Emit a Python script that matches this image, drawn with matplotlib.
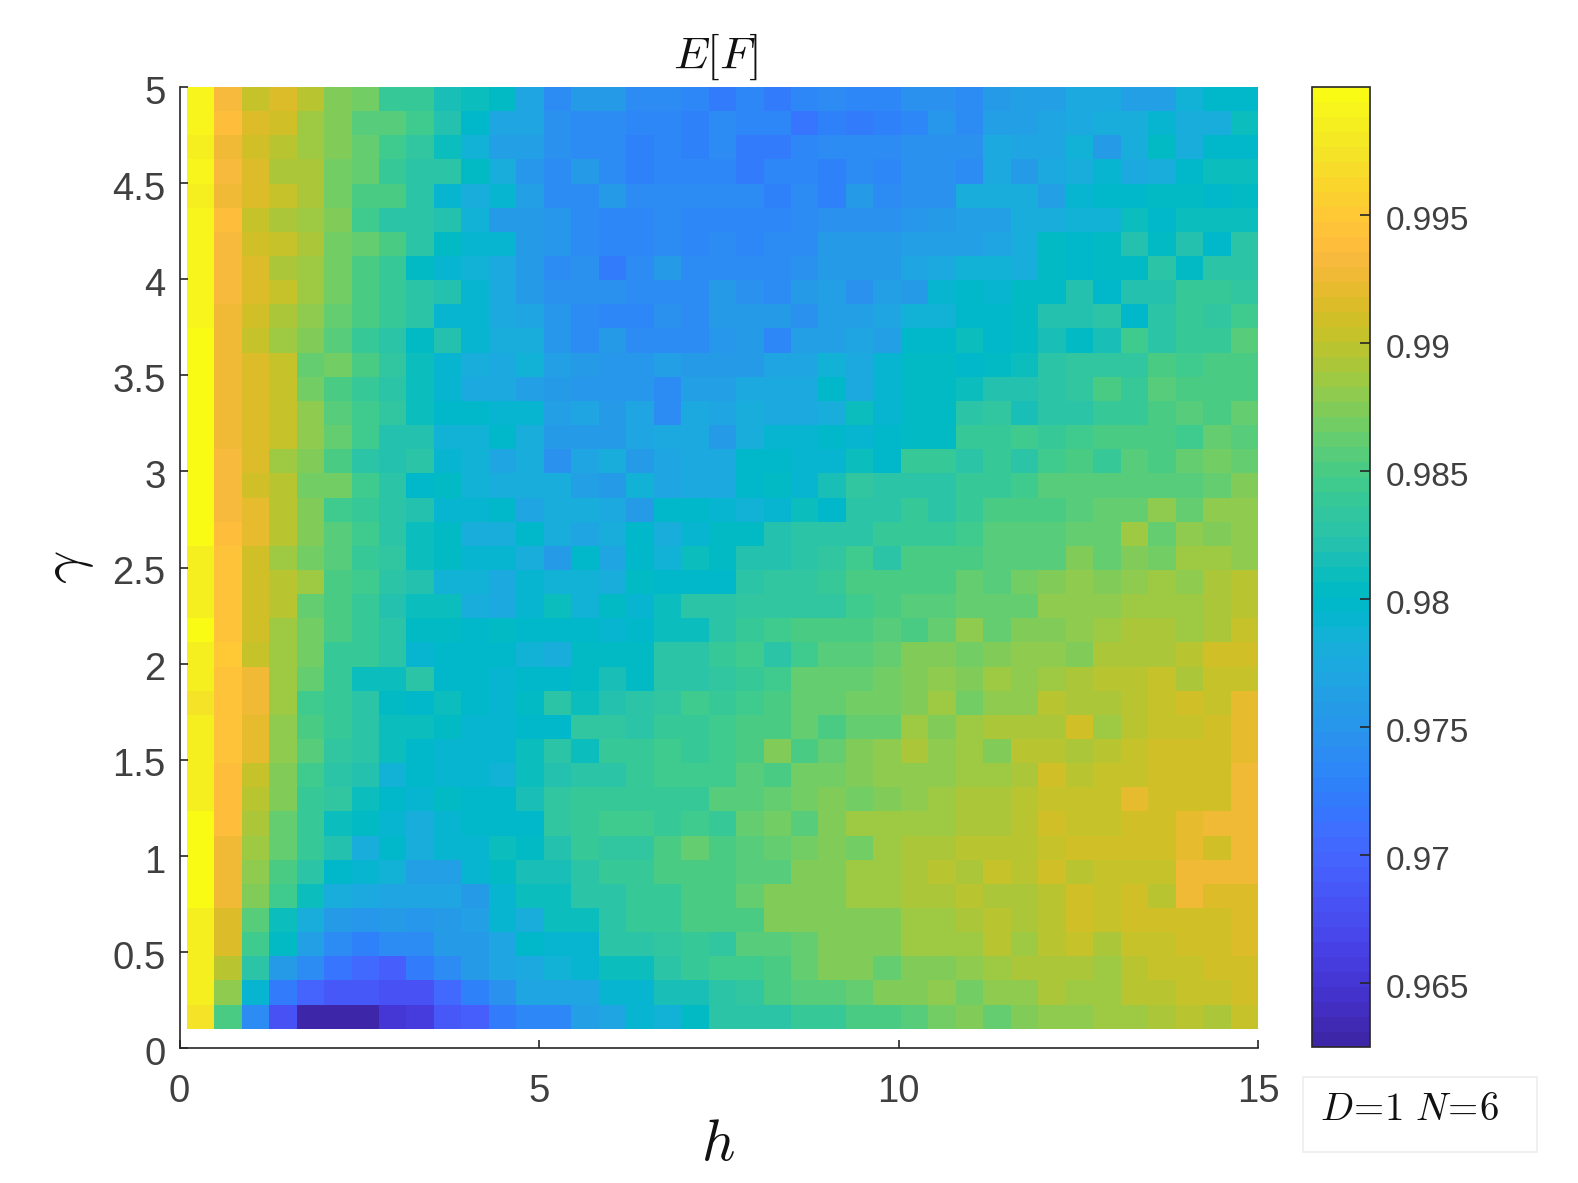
import numpy as np
import matplotlib
matplotlib.use('Agg')
import matplotlib.pyplot as plt
from matplotlib.colors import ListedColormap
from matplotlib.patches import Rectangle
from matplotlib.transforms import ScaledTranslation

plt.rcParams['font.family'] = ['Liberation Sans', 'DejaVu Sans']
plt.rcParams['mathtext.fontset'] = 'cm'

W, H = 1578, 1183

# E[F], in units of 1e-4 above 0.96
# rows go from gamma=5 (top) down to gamma=0.1, columns from h=0.1 to h=15
fid = [
 [391,335,305,315,297,275,270,240,238,213,207,201,170,142,157,157,142,137,132,120,135,122,132,142,132,132,145,145,137,154,162,162,174,174,162,165,187,199,199],
 [391,340,315,309,283,275,258,258,243,222,200,170,168,148,137,142,135,135,125,137,132,132,118,130,120,130,133,150,140,162,162,167,173,181,181,193,181,181,207],
 [385,324,309,297,283,275,263,247,235,208,187,165,161,148,137,142,125,135,125,137,122,122,135,140,137,137,145,145,145,173,167,167,184,158,178,203,178,199,199],
 [391,335,315,292,291,266,265,240,228,225,203,179,150,137,157,142,125,135,135,135,122,135,135,125,137,135,145,145,140,176,156,173,181,190,176,178,197,211,211],
 [385,324,315,303,292,266,250,248,228,193,179,193,161,142,142,157,142,137,137,137,137,125,139,125,154,142,147,147,178,181,181,165,190,197,197,203,201,199,202],
 [391,340,303,292,285,275,245,228,228,222,187,154,157,150,137,135,135,137,133,133,133,133,142,145,145,145,150,158,162,162,181,181,187,185,207,199,210,210,210],
 [391,335,312,303,292,266,260,248,228,201,193,193,154,150,137,135,135,137,133,137,133,137,142,154,154,154,165,165,162,169,178,202,199,201,223,201,222,199,228],
 [391,335,315,292,285,268,252,238,201,193,187,173,154,137,148,122,139,154,139,139,142,139,148,154,154,159,169,176,187,187,178,205,200,203,203,228,205,226,226],
 [391,335,315,303,285,268,252,238,228,222,191,173,159,148,148,145,139,139,139,154,145,142,154,161,148,165,154,190,199,190,203,203,222,200,220,220,236,236,234],
 [391,329,312,292,280,262,250,238,228,193,191,173,168,150,139,135,135,145,137,154,159,159,148,165,165,168,187,187,199,200,201,220,220,228,200,226,238,232,246],
 [397,329,304,287,272,256,236,230,201,222,193,179,179,150,139,159,137,142,142,151,154,135,161,161,168,161,200,200,207,197,201,213,205,213,245,228,240,240,256],
 [397,327,315,302,264,268,252,234,208,193,182,173,187,161,154,151,151,161,154,156,156,170,170,184,176,193,201,201,199,201,207,226,232,232,232,252,243,250,250],
 [397,324,315,303,266,252,236,226,211,193,173,173,165,154,151,151,150,142,161,161,173,173,173,198,173,191,205,205,210,224,222,228,232,252,236,256,248,250,250],
 [397,324,315,303,280,258,246,232,211,198,198,191,193,161,170,154,168,139,176,168,182,173,176,179,210,191,203,203,228,234,213,226,226,236,238,248,258,252,264],
 [397,324,315,303,280,264,245,220,222,187,187,199,179,159,159,159,168,176,173,159,182,193,193,200,191,200,203,203,236,236,246,240,242,248,252,252,246,264,256],
 [397,335,315,288,272,252,230,220,228,193,189,166,182,146,168,182,159,170,173,173,200,200,191,190,207,197,238,240,226,238,230,242,248,240,258,250,264,268,260],
 [397,335,307,297,266,268,245,228,200,203,187,182,182,182,161,157,187,170,173,173,200,201,191,213,232,225,226,226,236,236,242,254,258,254,258,258,258,260,274],
 [397,331,319,297,275,247,240,228,220,193,191,200,170,182,182,176,159,197,197,191,189,193,211,200,225,225,240,228,238,248,252,252,258,262,262,282,260,282,282],
 [397,338,319,297,275,256,243,228,209,205,179,179,200,182,170,182,200,182,191,203,201,222,226,230,225,236,238,238,242,254,254,254,262,262,284,264,282,274,282],
 [388,344,312,287,268,258,236,232,209,205,191,193,182,157,200,170,200,189,211,201,220,220,228,232,243,230,248,252,252,256,256,256,272,260,276,268,288,288,278],
 [386,344,312,297,283,248,243,228,222,187,184,177,193,184,184,179,201,197,199,199,226,232,232,240,248,248,248,252,262,256,268,272,282,276,280,286,282,292,300],
 [388,344,312,297,260,248,240,220,207,207,182,177,193,207,189,203,190,207,228,228,232,232,232,235,247,248,258,256,262,262,262,282,282,282,288,288,288,292,300],
 [397,344,312,288,268,250,240,228,205,201,200,205,199,200,199,191,200,207,207,226,238,243,248,248,248,258,250,264,282,260,272,272,280,286,292,292,285,290,303],
 [388,349,305,288,268,240,236,228,191,199,199,197,189,182,205,201,203,226,226,240,244,228,245,254,258,262,272,274,268,274,280,280,272,292,292,292,299,307,312],
 [386,344,324,285,260,240,207,211,226,199,199,191,199,200,201,213,203,226,226,234,238,247,262,262,262,268,272,282,274,288,280,287,292,297,297,303,292,303,303],
 [374,344,324,288,246,240,230,205,200,211,199,193,201,226,207,220,226,232,245,240,247,248,264,264,270,270,275,288,270,280,280,297,292,292,297,303,309,302,319],
 [388,344,319,282,250,236,228,207,207,201,193,193,199,199,232,232,226,238,238,246,250,250,262,252,262,262,285,276,288,292,292,292,309,288,297,303,303,309,319],
 [388,344,319,282,256,232,228,207,200,193,193,193,211,228,211,236,236,246,240,245,250,272,252,262,275,282,290,282,288,274,299,299,290,295,302,312,312,312,319],
 [388,340,303,272,245,228,222,189,200,193,193,185,207,222,226,226,236,246,246,246,258,250,270,270,275,282,282,282,288,288,290,307,299,303,303,310,310,310,329],
 [388,340,300,272,240,232,207,198,193,201,199,199,213,232,236,238,238,240,240,258,258,262,268,276,268,274,280,286,290,290,299,304,304,304,319,310,310,310,329],
 [397,338,290,262,238,207,205,193,182,193,199,199,199,232,236,246,246,240,246,240,262,268,258,276,285,285,288,287,292,292,297,312,303,303,309,309,319,329,329],
 [397,327,288,262,240,220,179,197,182,191,193,207,201,220,236,232,232,250,262,252,258,262,268,276,268,287,292,292,299,299,299,304,310,310,310,310,319,307,329],
 [397,325,282,252,228,198,193,184,161,161,191,201,213,213,226,238,238,250,252,252,256,256,272,272,287,287,293,300,291,304,299,310,297,303,303,303,329,329,329],
 [397,325,272,245,210,179,173,168,166,168,159,191,209,211,226,226,238,238,250,252,262,272,272,272,286,288,292,292,299,290,290,295,310,304,310,300,329,317,317],
 [388,315,258,207,179,157,150,154,150,159,161,191,182,207,207,226,238,240,248,252,252,272,272,272,276,276,288,288,292,299,290,295,310,304,310,310,310,310,317],
 [388,315,247,203,165,137,127,137,142,154,159,168,199,191,191,226,226,234,238,232,256,256,264,276,276,276,287,287,287,299,286,297,303,293,302,302,309,309,317],
 [388,300,225,157,142,118,105,95,120,142,154,168,173,189,191,207,211,230,236,246,242,252,262,272,272,260,272,272,280,288,290,290,290,284,295,303,303,310,312],
 [388,278,193,122,100,88,88,82,80,103,127,148,168,168,168,190,190,213,213,226,232,248,258,258,262,272,275,280,270,280,280,292,284,288,297,297,304,304,310],
 [374,250,142,78,30,25,27,52,60,85,92,120,132,132,161,170,193,189,205,226,226,226,240,240,250,250,258,268,272,262,272,280,280,286,286,290,297,290,303],
]

h_range = [0.1, 15]
gamma_range = [0.1, 5]
xticks = [0, 5, 10, 15]
yticks = [0, 0.5, 1, 1.5, 2, 2.5, 3, 3.5, 4, 4.5, 5]
yticklabels = ['0', '0.5', '1', '1.5', '2', '2.5', '3', '3.5', '4', '4.5', '5']
cticks = [0.965, 0.97, 0.975, 0.98, 0.985, 0.99, 0.995]
cticklabels = ['0.965', '0.97', '0.975', '0.98', '0.985', '0.99', '0.995']

# parula, 64 levels
parula = [
 [0.2422,0.1504,0.6603],[0.2504,0.1650,0.7076],[0.2578,0.1818,0.7511],[0.2647,0.1978,0.7952],
 [0.2706,0.2147,0.8364],[0.2751,0.2342,0.8710],[0.2783,0.2559,0.8991],[0.2803,0.2782,0.9221],
 [0.2813,0.3006,0.9414],[0.2810,0.3228,0.9579],[0.2795,0.3447,0.9717],[0.2760,0.3667,0.9829],
 [0.2699,0.3892,0.9906],[0.2602,0.4123,0.9952],[0.2440,0.4358,0.9988],[0.2206,0.4603,0.9973],
 [0.1963,0.4847,0.9892],[0.1834,0.5074,0.9798],[0.1786,0.5289,0.9682],[0.1764,0.5499,0.9520],
 [0.1687,0.5703,0.9359],[0.1540,0.5902,0.9218],[0.1460,0.6091,0.9079],[0.1380,0.6276,0.8973],
 [0.1248,0.6459,0.8883],[0.1113,0.6635,0.8763],[0.0952,0.6798,0.8598],[0.0689,0.6948,0.8394],
 [0.0297,0.7082,0.8163],[0.0036,0.7203,0.7917],[0.0067,0.7312,0.7660],[0.0433,0.7411,0.7394],
 [0.0964,0.7500,0.7120],[0.1408,0.7584,0.6842],[0.1717,0.7670,0.6554],[0.1938,0.7758,0.6251],
 [0.2161,0.7843,0.5923],[0.2470,0.7918,0.5567],[0.2906,0.7973,0.5188],[0.3406,0.8008,0.4789],
 [0.3909,0.8029,0.4354],[0.4456,0.8024,0.3909],[0.5044,0.7993,0.3480],[0.5616,0.7942,0.3045],
 [0.6174,0.7876,0.2612],[0.6720,0.7793,0.2227],[0.7242,0.7698,0.1910],[0.7738,0.7598,0.1646],
 [0.8203,0.7498,0.1535],[0.8634,0.7406,0.1596],[0.9035,0.7330,0.1774],[0.9393,0.7288,0.2100],
 [0.9728,0.7298,0.2394],[0.9956,0.7434,0.2371],[0.9970,0.7659,0.2199],[0.9952,0.7893,0.2028],
 [0.9892,0.8136,0.1885],[0.9786,0.8386,0.1766],[0.9676,0.8639,0.1643],[0.9610,0.8890,0.1537],
 [0.9597,0.9135,0.1423],[0.9628,0.9373,0.1265],[0.9691,0.9606,0.1064],[0.9769,0.9839,0.0805],
]

Z = 0.96 + np.array(fid) / 1e4
h_edges = np.linspace(h_range[0], h_range[1], Z.shape[1] + 1)
gamma_edges = np.linspace(gamma_range[1], gamma_range[0], Z.shape[0] + 1)

dark = '#262626'
textcol = '#404040'


def box(x0, y0, x1, y1):
    # pixel box in the reference -> figure fractions
    return [x0 / W, 1 - y1 / H, (x1 - x0) / W, (y1 - y0) / H]


fig = plt.figure(figsize=(W / 100, H / 100), dpi=100, facecolor='white')
ax = fig.add_axes(box(179.5, 87, 1258, 1048))
mesh = ax.pcolormesh(h_edges, gamma_edges, Z, cmap=ListedColormap(parula), vmin=0.9625, vmax=1.0)
ax.set_xlim(0, 15)
ax.set_ylim(0, 5)
ax.set_xticks(xticks)
ax.set_yticks(yticks)
ax.set_yticklabels(yticklabels)
ax.tick_params(direction='in', length=6, width=1.2, color=dark, labelcolor=textcol, labelsize=27.5, pad=10)
ax.tick_params(axis='x', pad=19)
ax.spines['top'].set_visible(False)
ax.spines['right'].set_visible(False)
for s in ['left', 'bottom']:
    ax.spines[s].set_linewidth(1.2)
    ax.spines[s].set_color(dark)

fig.text(716 / W, 1 - 57 / H, r'$E[F]$', fontsize=33, ha='center', va='center', color='#111111')
fig.text(718 / W, 1 - 1145 / H, r'$h$', fontsize=42, ha='center', va='center', color='#111111')
fig.text(69 / W, 1 - 567 / H, r'$\gamma$', fontsize=42, rotation=90, ha='center', va='center', color='#111111')

cax = fig.add_axes(box(1312, 87, 1370, 1047))
cb = fig.colorbar(mesh, cax=cax, ticks=cticks)
cb.ax.set_yticklabels(cticklabels)
cb.ax.tick_params(direction='in', length=7, width=1.2, color=dark, labelcolor=textcol, labelsize=24, pad=11.5)
cb.outline.set_linewidth(1.2)
cb.outline.set_edgecolor(dark)

# labels sit a little under their ticks in the reference
down = ScaledTranslation(0, -2 / 72, fig.dpi_scale_trans)
for lab in ax.get_yticklabels() + cb.ax.get_yticklabels():
    lab.set_transform(lab.get_transform() + down)

fig.add_artist(Rectangle((1303 / W, 1 - 1152 / H), 234 / W, 75 / H, transform=fig.transFigure,
                         facecolor='white', edgecolor='#eeeeee', linewidth=1.2))
fig.text(1320 / W, 1 - 1110 / H, r'$D\!=\!1\ N\!=\!6$', fontsize=28, ha='left', va='center', color='#111111')

fig.savefig('out.png', dpi=100)
